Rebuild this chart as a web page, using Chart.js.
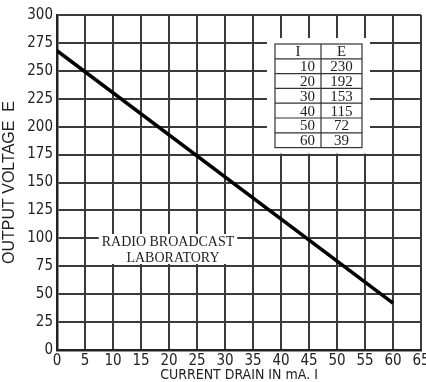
<!DOCTYPE html>
<html>
<head>
<meta charset="utf-8">
<script src="https://cdn.jsdelivr.net/npm/chart.js@4"></script>
<style>
  html, body { margin: 0; padding: 0; background: #fff; }
  #wrap { width: 426px; height: 382px; }
</style>
</head>
<body>
<div id="wrap"><canvas id="grafico" width="426" height="382"></canvas></div>
<script>
// line drawn on the sheet: current drain (mA) vs output voltage
const correnteLinha = [0, 60];
const tensaoLinha = [268, 42];

// small table printed inside the chart
const tabelaI = [10, 20, 30, 40, 50, 60];
const tabelaE = [230, 192, 153, 115, 72, 39];

const ticksX = [0, 5, 10, 15, 20, 25, 30, 35, 40, 45, 50, 55, 60, 65];
const ticksY = [0, 25, 50, 75, 100, 125, 150, 175, 200, 225, 250, 275, 300];

const fonteNum = "'Liberation Sans Narrow', 'DejaVu Sans Condensed', sans-serif";
const fonteSerif = "'Liberation Serif', 'DejaVu Serif', serif";
const corGrade = "#3a3a3a";

const textosPlugin = {
  id: "textos",
  afterDatasetsDraw(chart) {
    const ctx = chart.ctx;
    const area = chart.chartArea;
    ctx.save();

    // table
    const x0 = area.left + 218, x1 = x0 + 46, x2 = x1 + 41;
    const y0 = area.top + 29, h = 14.8;
    const linhas = tabelaI.length + 1;
    ctx.fillStyle = "#fff";
    ctx.fillRect(x0 - 8, y0 - 6, x2 - x0 + 16, h * linhas + 12);
    ctx.strokeStyle = "#333";
    ctx.lineWidth = 1.2;
    ctx.strokeRect(x0, y0, x2 - x0, h * linhas);
    ctx.beginPath();
    ctx.moveTo(x1, y0);
    ctx.lineTo(x1, y0 + h * linhas);
    for (let i = 1; i < linhas; i++) {
      ctx.moveTo(x0, y0 + h * i);
      ctx.lineTo(x2, y0 + h * i);
    }
    ctx.stroke();
    ctx.fillStyle = "#222";
    ctx.font = "15px " + fonteSerif;
    ctx.textAlign = "center";
    ctx.textBaseline = "middle";
    ctx.fillText("I", (x0 + x1) / 2, y0 + h / 2 + 1);
    ctx.fillText("E", (x1 + x2) / 2, y0 + h / 2 + 1);
    tabelaI.forEach((v, i) => {
      const y = y0 + h * (i + 1.5) + 1;
      ctx.textAlign = "right";
      ctx.fillText(String(v), x1 - 6, y);
      ctx.textAlign = "center";
      ctx.fillText(String(tabelaE[i]), (x1 + x2) / 2, y);
    });

    // laboratory label
    ctx.font = "14px " + fonteSerif;
    ctx.textAlign = "center";
    const linha1 = "RADIO BROADCAST";
    const linha2 = "LABORATORY";
    const cx = area.left + 111;
    const w1 = ctx.measureText(linha1).width;
    ctx.fillStyle = "#fff";
    ctx.fillRect(cx - w1 / 2 - 3, area.top + 219, w1 + 6, 30);
    ctx.fillStyle = "#222";
    ctx.fillText(linha1, cx, area.top + 227);
    ctx.fillText(linha2, cx + 5, area.top + 243);
    ctx.restore();
  },
};

new Chart(document.getElementById("grafico"), {
  type: "line",
  data: {
    datasets: [
      {
        data: correnteLinha.map((x, i) => ({ x: x, y: tensaoLinha[i] })),
        borderColor: "#000",
        borderWidth: 3.5,
        pointRadius: 0,
        fill: false,
      },
    ],
  },
  options: {
    responsive: false,
    animation: false,
    layout: { padding: { top: 15, right: 5, left: 0, bottom: 0 } },
    plugins: { legend: { display: false }, tooltip: { enabled: false } },
    scales: {
      x: {
        type: "linear",
        min: 0,
        max: 65,
        afterBuildTicks: (s) => { s.ticks = ticksX.map((v) => ({ value: v })); },
        afterFit: (s) => { s.height = 32; s.paddingRight = 0; s.paddingLeft = 0; },
        grid: { color: corGrade, lineWidth: 2, drawTicks: false },
        border: { color: "#222", width: 2.5 },
        ticks: { color: "#222", font: { family: fonteNum, size: 15, lineHeight: 1 }, padding: 4, maxRotation: 0 },
        title: {
          display: true,
          text: "CURRENT DRAIN IN mA. I",
          color: "#222",
          font: { family: fonteNum, size: 14, lineHeight: 1 },
          padding: { top: 0, bottom: 0 },
        },
      },
      y: {
        min: 0,
        max: 300,
        afterBuildTicks: (s) => { s.ticks = ticksY.map((v) => ({ value: v })); },
        afterFit: (s) => { s.width = 57; s.paddingTop = 0; s.paddingBottom = 0; },
        grid: { color: corGrade, lineWidth: 2, drawTicks: false },
        border: { color: "#222", width: 2.5 },
        ticks: { color: "#222", font: { family: fonteNum, size: 15 }, padding: 4 },
        title: {
          display: true,
          text: "OUTPUT VOLTAGE  E",
          color: "#222",
          font: { family: "'Liberation Sans', Arial, sans-serif", size: 16 },
          padding: { top: 0, bottom: 0 },
        },
      },
    },
  },
  plugins: [textosPlugin],
});
</script>
</body>
</html>
